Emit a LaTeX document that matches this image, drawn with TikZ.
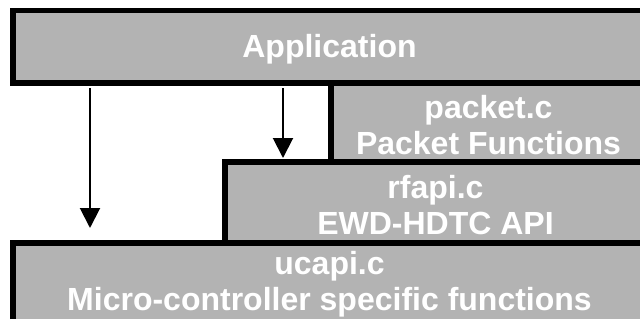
\documentclass[tikz,border=0pt]{standalone}
\usepackage{fontspec}
\setmainfont{Liberation Sans}
\usetikzlibrary{arrows.meta}
\definecolor{layergray}{RGB}{179,179,179}
% extra height on a first line pushes the text block slightly down
\newcommand{\lift}{\rule{0pt}{29pt}}
\tikzset{
  layer/.style={fill=layergray, draw=none, anchor=north west, inner sep=0pt,
    outer sep=0pt, align=center, text=white,
    font=\bfseries\fontsize{32}{36}\selectfont},
  edge/.style={line width=5.5pt, black, line join=miter},
  callarrow/.style={line width=2pt, -{Triangle[length=20pt,width=20pt]}}
}
\begin{document}
\begin{tikzpicture}[x=1pt,y=-1pt]
  \useasboundingbox (0,0) rectangle (640,322);
  % software layers, top to bottom
  \node[layer, minimum width=633pt, minimum height=72.5pt] (app) at (13,10.5) {\lift Application};
  \node[layer, minimum width=315pt, minimum height=79pt] (pkt) at (331,83) {\lift packet.c\\Packet Functions};
  \node[layer, minimum width=421pt, minimum height=81pt] (rf) at (225,162) {\lift rfapi.c\\EWD-HDTC API};
  \node[layer, minimum width=633pt, minimum height=76pt] (uc) at (13,243) {\lift ucapi.c\\Micro-controller specific functions};
  % heavy outlines on the left and top of each layer
  \draw[edge] (app.south east) -- (app.south west) -- (app.north west) -- (app.north east);
  \draw[edge] (pkt.south west) -- (pkt.north west) -- (pkt.north east);
  \draw[edge] (rf.south west) -- (rf.north west) -- (rf.north east);
  \draw[edge] (uc.south west) -- (uc.north west) -- (uc.north east);
  % calls from the application into the lower layers
  \draw[callarrow] ([xshift=77pt,yshift=-5pt]app.south west) -- ([xshift=77pt,yshift=15pt]uc.north west);
  \draw[callarrow] ([xshift=270pt,yshift=-5pt]app.south west) -- ([xshift=58pt,yshift=4pt]rf.north west);
\end{tikzpicture}
\end{document}
